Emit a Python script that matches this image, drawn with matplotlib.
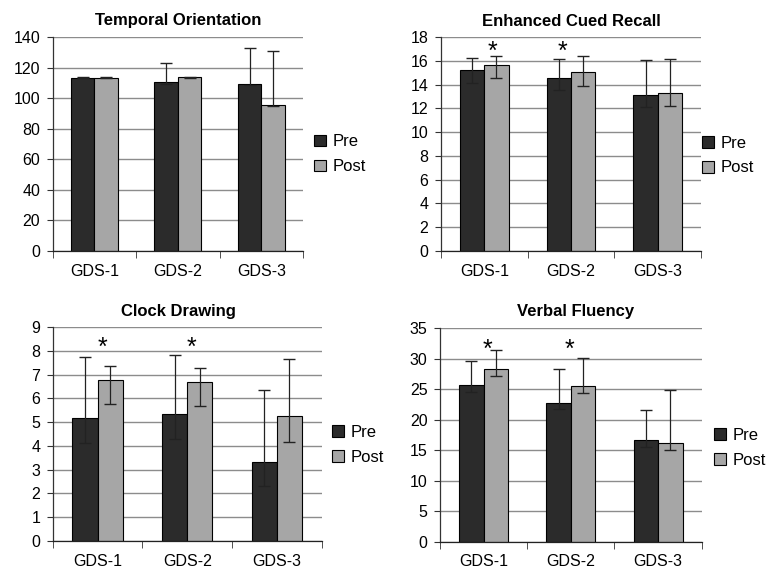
import matplotlib
matplotlib.use("Agg")
import matplotlib.pyplot as plt
import matplotlib.transforms as mtransforms
import numpy as np

plt.rcParams['font.family'] = ['Liberation Sans', 'DejaVu Sans']

categories = ["GDS-1", "GDS-2", "GDS-3"]
series = ["Pre", "Post"]

# Temporal Orientation
to_pre = [113.4, 110.4, 109.5]
to_post = [113.4, 113.6, 95.5]
to_pre_up = [0.4, 12.4, 23.5]
to_pre_lo = [0.4, 0.9, 0.9]
to_post_up = [0.4, 0.4, 35.6]
to_post_lo = [0.4, 0.4, 0.6]

# Enhanced Cued Recall
ecr_pre = [15.22, 14.52, 13.15]
ecr_post = [15.64, 15.03, 13.26]
ecr_pre_up = [1.01, 1.63, 2.94]
ecr_pre_lo = [1.12, 1.01, 1.04]
ecr_post_up = [0.76, 1.37, 2.89]
ecr_post_lo = [1.09, 1.12, 1.04]

# Clock Drawing
cd_pre = [5.16, 5.33, 3.32]
cd_post = [6.77, 6.69, 5.24]
cd_pre_up = [2.59, 2.48, 3.02]
cd_pre_lo = [1.02, 1.03, 1.02]
cd_post_up = [0.60, 0.60, 2.40]
cd_post_lo = [1.02, 1.01, 1.08]

# Verbal Fluency
vf_pre = [25.70, 22.69, 16.73]
vf_post = [28.32, 25.53, 16.24]
vf_pre_up = [3.99, 5.69, 4.92]
vf_pre_lo = [1.15, 0.98, 1.15]
vf_post_up = [3.17, 4.65, 8.64]
vf_post_lo = [1.15, 1.15, 1.20]

titles = ["Temporal Orientation", "Enhanced Cued Recall", "Clock Drawing", "Verbal Fluency"]
yticks = [np.arange(0, 141, 20), np.arange(0, 19, 2), np.arange(0, 10, 1), np.arange(0, 36, 5)]

# significance markers: (x position in category units, y value)
ecr_star_x = [0.09, 0.90]
ecr_star_y = [17.27, 17.27]
cd_star_x = [0.05, 1.05]
cd_star_y = [8.38, 8.38]
vf_star_x = [0.05, 0.98]
vf_star_y = [32.5, 32.5]

panels = [
    (to_pre, to_post, to_pre_lo, to_pre_up, to_post_lo, to_post_up, [], []),
    (ecr_pre, ecr_post, ecr_pre_lo, ecr_pre_up, ecr_post_lo, ecr_post_up, ecr_star_x, ecr_star_y),
    (cd_pre, cd_post, cd_pre_lo, cd_pre_up, cd_post_lo, cd_post_up, cd_star_x, cd_star_y),
    (vf_pre, vf_post, vf_pre_lo, vf_pre_up, vf_post_lo, vf_post_up, vf_star_x, vf_star_y),
]

W, H = 768, 569
fig = plt.figure(figsize=(7.68, 5.69), dpi=100)

# axes boxes in pixels: left, right, top, bottom
boxes = [(52.7, 303, 37, 251), (441, 701, 37, 251), (52.7, 321.7, 327, 541), (440, 701.7, 328.3, 541.7)]
title_pos = [(178, 20), (571, 21.7), (178, 311), (576, 311.7)]
legend_pos = [(314, 154.2), (702, 155.5), (332, 444.8), (714, 447.9)]

pre_color = '#2b2b2b'
post_color = '#a6a6a6'
bw = 0.28
x = np.arange(len(categories))

for i, (pre, post, plo, pup, qlo, qup, sx, sy) in enumerate(panels):
    l, r, t, b = boxes[i]
    ax = fig.add_axes([l / W, 1 - b / H, (r - l) / W, (b - t) / H])
    ax.bar(x - bw / 2, pre, bw, color=pre_color, edgecolor='black', linewidth=0.8, label=series[0], zorder=2)
    ax.bar(x + bw / 2, post, bw, color=post_color, edgecolor='black', linewidth=0.8, label=series[1], zorder=2)
    ax.errorbar(x - bw / 2, pre, yerr=[plo, pup], fmt='none', ecolor='#222222', elinewidth=0.9, capsize=4.5, capthick=1.0, zorder=3)
    ax.errorbar(x + bw / 2, post, yerr=[qlo, qup], fmt='none', ecolor='#222222', elinewidth=0.9, capsize=4.5, capthick=1.0, zorder=3)
    star_tr = mtransforms.offset_copy(ax.transData, fig=fig, x=0, y=-4.5, units='points')
    for xs, ys in zip(sx, sy):
        ax.text(xs, ys, '*', ha='center', va='center', fontsize=18, color='black', zorder=4, transform=star_tr)
    ax.set_xlim(-0.5, 2.5)
    yt = yticks[i]
    ax.set_ylim(0, yt[-1])
    ax.set_yticks(yt)
    ax.yaxis.grid(True, color='#8c8c8c', linewidth=1.0, zorder=0)
    ax.set_axisbelow(True)
    ax.set_xticks(x)
    ax.set_xticklabels(categories)
    ax.set_xticks([-0.5, 0.5, 1.5, 2.5], minor=True)
    ax.tick_params(axis='x', which='major', length=0, pad=9, labelsize=11.5)
    ax.tick_params(axis='x', which='minor', length=5, direction='out', color='#333333')
    ax.tick_params(axis='y', length=4, direction='out', color='#333333', pad=5, labelsize=11.5)
    for s in ['top', 'right']:
        ax.spines[s].set_visible(False)
    ax.spines['left'].set_color('#333333')
    ax.spines['bottom'].set_color('#222222')
    ax.spines['left'].set_linewidth(0.9)
    ax.spines['bottom'].set_linewidth(0.9)
    tx, ty = title_pos[i]
    fig.text(tx / W, 1 - ty / H, titles[i], ha='center', va='center', fontsize=12, fontweight='bold')
    lx, ly = legend_pos[i]
    ax.legend(loc='center left', bbox_to_anchor=(lx / W, 1 - ly / H), bbox_transform=fig.transFigure,
              frameon=False, borderpad=0, borderaxespad=0, handlelength=0.7, handleheight=0.7,
              handletextpad=0.4, labelspacing=0.6, fontsize=12)

fig.savefig('out.png', dpi=100, facecolor='white')
